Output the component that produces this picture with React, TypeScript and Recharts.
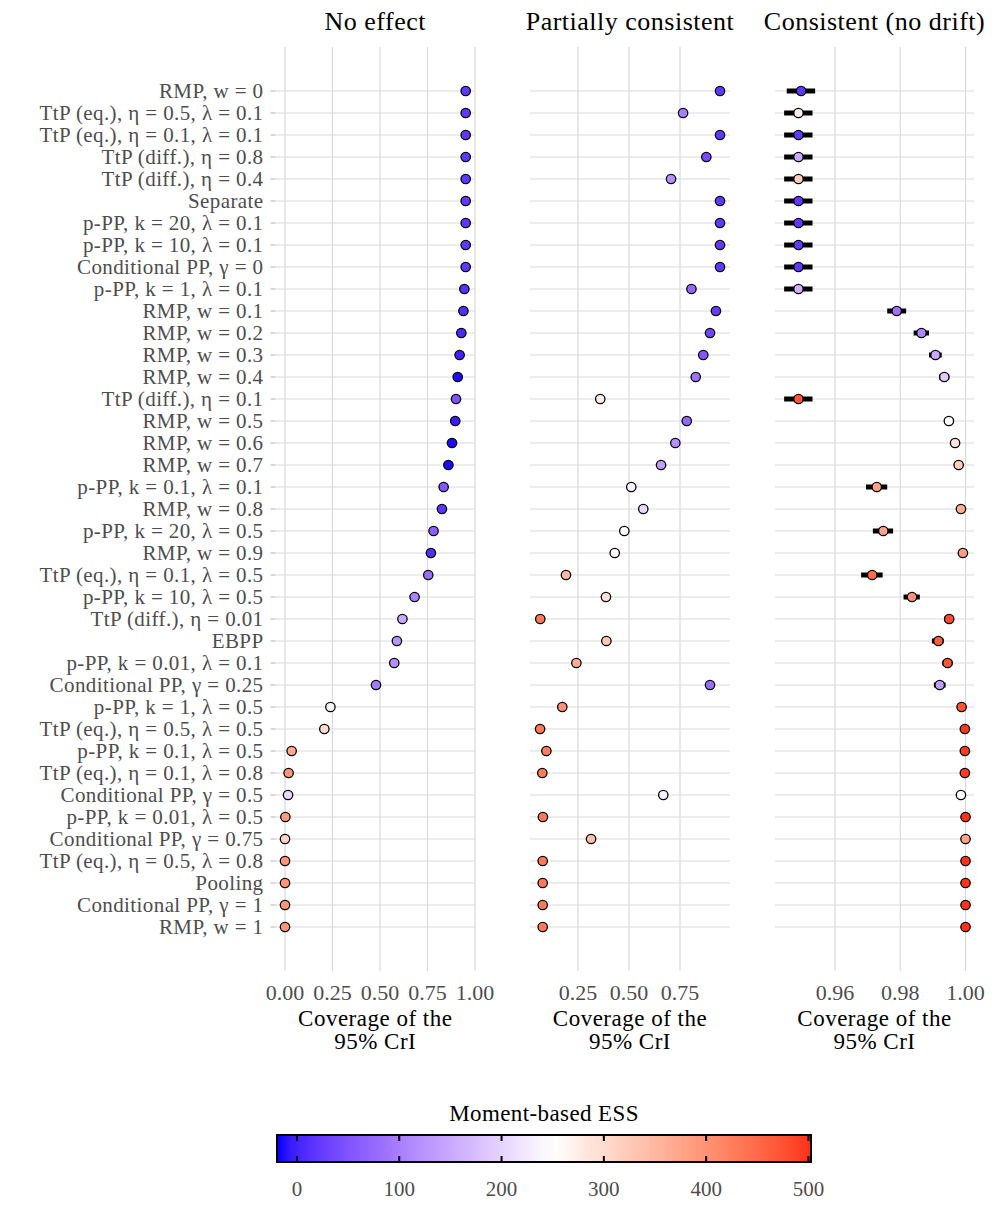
import React from 'react'
import { CartesianGrid, ErrorBar, Scatter, ScatterChart, XAxis, YAxis } from 'recharts'

const methods = [
  'RMP, w = 0',
  'TtP (eq.), η = 0.5, λ = 0.1',
  'TtP (eq.), η = 0.1, λ = 0.1',
  'TtP (diff.), η = 0.8',
  'TtP (diff.), η = 0.4',
  'Separate',
  'p-PP, k = 20, λ = 0.1',
  'p-PP, k = 10, λ = 0.1',
  'Conditional PP, γ = 0',
  'p-PP, k = 1, λ = 0.1',
  'RMP, w = 0.1',
  'RMP, w = 0.2',
  'RMP, w = 0.3',
  'RMP, w = 0.4',
  'TtP (diff.), η = 0.1',
  'RMP, w = 0.5',
  'RMP, w = 0.6',
  'RMP, w = 0.7',
  'p-PP, k = 0.1, λ = 0.1',
  'RMP, w = 0.8',
  'p-PP, k = 20, λ = 0.5',
  'RMP, w = 0.9',
  'TtP (eq.), η = 0.1, λ = 0.5',
  'p-PP, k = 10, λ = 0.5',
  'TtP (diff.), η = 0.01',
  'EBPP',
  'p-PP, k = 0.01, λ = 0.1',
  'Conditional PP, γ = 0.25',
  'p-PP, k = 1, λ = 0.5',
  'TtP (eq.), η = 0.5, λ = 0.5',
  'p-PP, k = 0.1, λ = 0.5',
  'TtP (eq.), η = 0.1, λ = 0.8',
  'Conditional PP, γ = 0.5',
  'p-PP, k = 0.01, λ = 0.5',
  'Conditional PP, γ = 0.75',
  'TtP (eq.), η = 0.5, λ = 0.8',
  'Pooling',
  'Conditional PP, γ = 1',
  'RMP, w = 1',
]

const noEffectCoverage = [
  0.951, 0.951, 0.951, 0.951, 0.951, 0.951, 0.951, 0.951, 0.951, 0.944,
  0.939, 0.928, 0.919, 0.909, 0.9, 0.896, 0.879, 0.86, 0.835, 0.826,
  0.782, 0.768, 0.754, 0.682, 0.618, 0.589, 0.575, 0.479, 0.239, 0.207,
  0.035, 0.019, 0.016, 0.002, 0.0, 0.0, 0.0, 0.0, 0.0,
]
const noEffectEss = [
  20, 20, 20, 20, 20, 20, 20, 20, 20, 15,
  10, 5, 0, -15, 50, -5, -15, -15, 55, 15,
  65, 10, 80, 105, 150, 125, 120, 95, 245, 300,
  370, 395, 205, 390, 310, 395, 395, 395, 395,
]

const partialCoverage = [
  0.946, 0.765, 0.946, 0.879, 0.706, 0.946, 0.946, 0.946, 0.946, 0.806,
  0.926, 0.897, 0.864, 0.827, 0.359, 0.783, 0.727, 0.657, 0.511, 0.57,
  0.477, 0.43, 0.191, 0.387, 0.065, 0.389, 0.242, 0.897, 0.173, 0.064,
  0.095, 0.075, 0.668, 0.078, 0.314, 0.077, 0.077, 0.077, 0.077,
]
const partialEss = [
  20, 100, 20, 40, 120, 20, 20, 20, 20, 75,
  25, 35, 55, 85, 275, 75, 120, 135, 235, 205,
  250, 255, 350, 290, 430, 330, 365, 80, 400, 430,
  425, 430, 235, 430, 340, 430, 430, 430, 430,
]

const consistentCoverage = [
  0.9496, 0.9488, 0.9488, 0.9488, 0.9488, 0.9488, 0.9488, 0.9488, 0.9488, 0.9488,
  0.9789, 0.9865, 0.9908, 0.9935, 0.9488, 0.9949, 0.9968, 0.9979, 0.9728, 0.9986,
  0.9748, 0.9992, 0.9714, 0.9836, 0.995, 0.9917, 0.9945, 0.9921, 0.9988, 0.9998,
  0.9998, 0.9998, 0.9986, 1.0, 1.0, 1.0, 1.0, 1.0, 1.0,
]
const consistentLower = [
  0.9452, 0.9444, 0.9444, 0.9444, 0.9444, 0.9444, 0.9444, 0.9444, 0.9444, 0.9444,
  0.976, 0.9841, 0.9888, 0.9919, 0.9444, 0.9935, 0.9957, 0.997, 0.9695, 0.9979,
  0.9716, 0.9986, 0.968, 0.981, 0.9935, 0.9897, 0.9929, 0.9903, 0.9981, 0.9995,
  0.9995, 0.9995, 0.9979, 1.0, 1.0, 1.0, 1.0, 1.0, 1.0,
]
const consistentUpper = [
  0.9539, 0.9531, 0.9531, 0.9531, 0.9531, 0.9531, 0.9531, 0.9531, 0.9531, 0.9531,
  0.9818, 0.9888, 0.9927, 0.995, 0.9531, 0.9963, 0.9979, 0.9988, 0.976, 0.9993,
  0.9778, 0.9998, 0.9746, 0.986, 0.9961, 0.9933, 0.996, 0.9939, 0.9995, 1.0,
  1.0, 1.0, 0.9993, 1.0, 1.0, 1.0, 1.0, 1.0, 1.0,
]
const consistentEss = [
  20, 270, 20, 150, 320, 20, 20, 20, 20, 160,
  85, 110, 150, 190, 470, 250, 285, 320, 380, 365,
  375, 385, 445, 400, 480, 460, 470, 140, 470, 495,
  495, 495, 250, 500, 375, 500, 500, 500, 500,
]

const essTicks = [0, 100, 200, 300, 400, 500]
const essLimits = [-19.5, 502.5]
const essMidpoint = 250

const FONT = 'Liberation Serif, Times New Roman, serif'
const GREY = '#4d4d4d'
const GRID = '#d9d9d9'

// ggplot-style gradient2, interpolated in Lab
type Lab = [number, number, number]
const lin = (c: number) => {
  const v = c / 255
  return v <= 0.04045 ? v / 12.92 : Math.pow((v + 0.055) / 1.055, 2.4)
}
const unlin = (c: number) => {
  const v = c <= 0.0031308 ? 12.92 * c : 1.055 * Math.pow(c, 1 / 2.4) - 0.055
  return Math.round(Math.min(1, Math.max(0, v)) * 255)
}
function rgbToLab(r: number, g: number, b: number): Lab {
  const R = lin(r), G = lin(g), B = lin(b)
  const X = (0.4124564 * R + 0.3575761 * G + 0.1804375 * B) / 0.95047
  const Y = 0.2126729 * R + 0.7151522 * G + 0.072175 * B
  const Z = (0.0193339 * R + 0.119192 * G + 0.9503041 * B) / 1.08883
  const f = (t: number) => (t > 216 / 24389 ? Math.cbrt(t) : ((24389 / 27) * t + 16) / 116)
  return [116 * f(Y) - 16, 500 * (f(X) - f(Y)), 200 * (f(Y) - f(Z))]
}
function labToHex([L, a, b]: Lab): string {
  const fy = (L + 16) / 116
  const fx = fy + a / 500
  const fz = fy - b / 200
  const inv = (t: number) => (t ** 3 > 216 / 24389 ? t ** 3 : (116 * t - 16) / (24389 / 27))
  const X = inv(fx) * 0.95047, Y = inv(fy), Z = inv(fz) * 1.08883
  const r = unlin(3.2404542 * X - 1.5371385 * Y - 0.4985314 * Z)
  const g = unlin(-0.969266 * X + 1.8760108 * Y + 0.041556 * Z)
  const bb = unlin(0.0556434 * X - 0.2040259 * Y + 1.0572252 * Z)
  return '#' + [r, g, bb].map((v) => v.toString(16).padStart(2, '0')).join('')
}
const LOW = rgbToLab(0, 0, 255)
const MID = rgbToLab(255, 255, 255)
const HIGH = rgbToLab(255, 0, 0)

function essColor(v: number): string {
  const span = Math.max(essMidpoint - essLimits[0], essLimits[1] - essMidpoint)
  const t = Math.min(1, Math.max(0, (v - essMidpoint) / (2 * span) + 0.5))
  const [from, to, u] = t < 0.5 ? [LOW, MID, t / 0.5] : [MID, HIGH, (t - 0.5) / 0.5]
  return labToHex([0, 1, 2].map((i) => from[i] + (to[i] - from[i]) * u) as Lab)
}

const rows = (coverage: number[], ess: number[], lo?: number[], hi?: number[]) =>
  coverage.map((c, i) => ({
    row: i + 1,
    coverage: c,
    color: essColor(ess[i]),
    err: lo && hi ? [c - lo[i], hi[i] - c] : [0, 0],
  }))

const panels = [
  {
    title: 'No effect',
    data: rows(noEffectCoverage, noEffectEss),
    domain: [-0.05, 1.0],
    ticks: [0, 0.25, 0.5, 0.75, 1],
    left: 0,
    width: 505,
    margin: { top: 47, right: 30, bottom: 9, left: 0 },
    labels: true,
    bars: false,
  },
  {
    title: 'Partially consistent',
    data: rows(partialCoverage, partialEss),
    domain: [0.0147, 0.995],
    ticks: [0.25, 0.5, 0.75],
    left: 510,
    width: 240,
    margin: { top: 47, right: 20, bottom: 9, left: 20 },
    labels: false,
    bars: false,
  },
  {
    title: 'Consistent (no drift)',
    data: rows(consistentCoverage, consistentEss, consistentLower, consistentUpper),
    domain: [0.9416, 1.0026],
    ticks: [0.96, 0.98, 1.0],
    left: 755,
    width: 242,
    margin: { top: 47, right: 23, bottom: 9, left: 20 },
    labels: false,
    bars: true,
  },
]

const rowTicks = methods.map((_, i) => i + 1)
const CHART_H = 1070
const Y_AXIS_W = 275.5

function Dot(props: any) {
  const { cx, cy, payload } = props
  if (cx == null || cy == null) return null
  return <circle cx={cx} cy={cy} r={4.7} fill={payload.color} stroke="#000" strokeWidth={1.3} />
}

function Panel({ p }: { p: (typeof panels)[number] }) {
  return (
    <div style={{ position: 'absolute', left: p.left, top: 0 }}>
      <ScatterChart width={p.width} height={CHART_H} margin={p.margin}>
        <CartesianGrid stroke={GRID} strokeWidth={1.2} syncWithTicks />
        <XAxis
          type="number"
          dataKey="coverage"
          domain={p.domain}
          ticks={p.ticks}
          allowDataOverflow
          interval={0}
          height={90}
          axisLine={false}
          tickLine={false}
          tickSize={0}
          tickMargin={13}
          tickFormatter={(v: number) => v.toFixed(2)}
          tick={{ fill: GREY, fontSize: 22, fontFamily: FONT }}
        />
        <YAxis
          type="number"
          dataKey="row"
          domain={[-1, 41]}
          reversed
          allowDataOverflow
          ticks={rowTicks}
          interval={0}
          hide={!p.labels}
          width={p.labels ? Y_AXIS_W : 0}
          axisLine={false}
          tickLine={{ stroke: '#b3b3b3' }}
          tickSize={5}
          tickMargin={7}
          tickFormatter={(v: number) => methods[v - 1] ?? ''}
          tick={{ fill: GREY, fontSize: 21, fontFamily: FONT, letterSpacing: 0.4 }}
        />
        <Scatter data={p.data} shape={Dot} isAnimationActive={false}>
          {p.bars && (
            <ErrorBar
              dataKey="err"
              direction="x"
              width={0}
              stroke="#000"
              strokeWidth={5}
              isAnimationActive={false}
            />
          )}
        </Scatter>
      </ScatterChart>
    </div>
  )
}

function Overlay() {
  const barX = 277
  const barW = 534
  const barY = 1135
  const barH = 27
  const essX = (v: number) => barX + ((v - essLimits[0]) / (essLimits[1] - essLimits[0])) * barW
  const stops = Array.from({ length: 41 }, (_, i) => {
    const v = essLimits[0] + ((essLimits[1] - essLimits[0]) * i) / 40
    return { offset: `${(i / 40) * 100}%`, color: essColor(v) }
  })
  const txt = { fontFamily: FONT }
  return (
    <svg
      width={997}
      height={1231}
      style={{ position: 'absolute', left: 0, top: 0, pointerEvents: 'none', fontFamily: FONT }}
    >
      {panels.map((p) => {
        const x0 = p.left + p.margin.left + (p.labels ? Y_AXIS_W : 0)
        const x1 = p.left + p.width - p.margin.right
        const cx = (x0 + x1) / 2
        return (
          <g key={p.title}>
            <text x={cx} y={30} textAnchor="middle" fontSize={26} letterSpacing={0.5} fill="#000" style={txt}>
              {p.title}
            </text>
            <text x={cx} y={1026} textAnchor="middle" fontSize={23} letterSpacing={0.5} fill="#000" style={txt}>
              Coverage of the
            </text>
            <text x={cx} y={1049} textAnchor="middle" fontSize={23} letterSpacing={0.5} fill="#000" style={txt}>
              95% CrI
            </text>
          </g>
        )
      })}
      <defs>
        <linearGradient id="essGrad" x1="0" x2="1" y1="0" y2="0">
          {stops.map((s) => (
            <stop key={s.offset} offset={s.offset} stopColor={s.color} />
          ))}
        </linearGradient>
      </defs>
      <text x={barX + barW / 2} y={1121} textAnchor="middle" fontSize={23} letterSpacing={0.4} fill="#000" style={txt}>
        Moment-based ESS
      </text>
      <rect x={barX} y={barY} width={barW} height={barH} fill="url(#essGrad)" stroke="#000" strokeWidth={2} />
      {essTicks.map((t) => (
        <g key={t}>
          <line x1={essX(t)} x2={essX(t)} y1={barY} y2={barY + 6} stroke="#000" strokeWidth={2} />
          <line x1={essX(t)} x2={essX(t)} y1={barY + barH - 6} y2={barY + barH} stroke="#000" strokeWidth={2} />
          <text x={essX(t)} y={1196} textAnchor="middle" fontSize={21} fill={GREY} style={txt}>
            {t}
          </text>
        </g>
      ))}
    </svg>
  )
}

export default function App() {
  return (
    <div style={{ position: 'absolute', left: 0, top: 0, width: 997, height: 1231, background: '#fff' }}>
      {panels.map((p) => (
        <Panel key={p.title} p={p} />
      ))}
      <Overlay />
    </div>
  )
}
